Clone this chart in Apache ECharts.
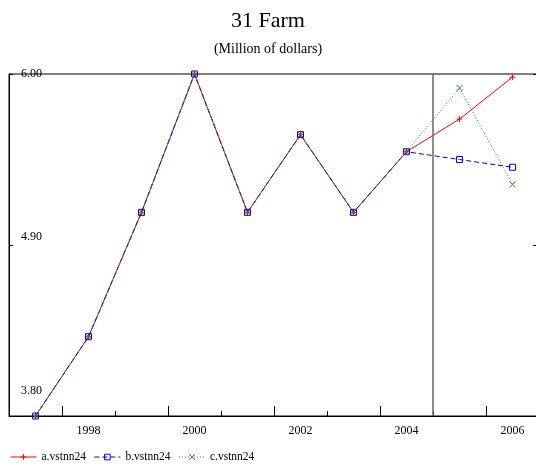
<!DOCTYPE html>
<html>
<head>
<meta charset="utf-8">
<script src="https://cdn.jsdelivr.net/npm/echarts@6/dist/echarts.min.js"></script>
<style>
  html, body { margin: 0; padding: 0; background: #fff; }
  #chart { width: 536px; height: 464px; }
</style>
</head>
<body>
<div id="chart"></div>
<script>
// Farm output, million dollars, by year
const years = ['1997', '1998', '1999', '2000', '2001', '2002', '2003', '2004', '2005', '2006'];
const seriesA = [3.80, 4.31, 5.11, 6.00, 5.11, 5.61, 5.11, 5.50, 5.71, 5.98];
const seriesB = [3.80, 4.31, 5.11, 6.00, 5.11, 5.61, 5.11, 5.50, 5.45, 5.40];
const seriesC = [3.80, 4.31, 5.11, 6.00, 5.11, 5.61, 5.11, 5.50, 5.91, 5.29];
const seriesNames = ['a.vstnn24', 'b.vstnn24', 'c.vstnn24'];
const yMin = 3.80;
const yMax = 6.00;
const yStep = 1.10;
// boundary between history and projection
const dividerYear = 2004.5;

const serif = 'Liberation Serif, Times New Roman, serif';
const firstYear = Number(years[0]);
const lastYear = Number(years[years.length - 1]);

const plusPath = 'path://M0,5L10,5M5,0L5,10';
const crossPath = 'path://M0,0L10,10M10,0L0,10';
const boxPath = 'path://M0,0L10,0L10,10L0,10Z';

function lineSeries(name, data, color, type, symbol, size) {
  return {
    name: name,
    type: 'line',
    data: data,
    xAxisIndex: 0,
    yAxisIndex: 0,
    symbol: symbol,
    symbolSize: size,
    showSymbol: true,
    itemStyle: { color: 'rgba(255,255,255,0)', borderColor: color, borderWidth: 1 },
    lineStyle: { color: color, width: 1, type: type },
    emphasis: { disabled: true }
  };
}

const chart = echarts.init(document.getElementById('chart'), null, { renderer: 'canvas' });
chart.setOption({
  animation: false,
  backgroundColor: '#fff',
  title: {
    text: '31 Farm',
    subtext: '(Million of dollars)',
    left: 'center',
    top: 0,
    padding: [10, 0, 0, 16],
    itemGap: 10,
    textStyle: { fontFamily: serif, fontSize: 22, fontWeight: 'normal', color: '#000' },
    subtextStyle: { fontFamily: serif, fontSize: 14, color: '#000' }
  },
  legend: {
    data: seriesNames,
    left: 5,
    top: 446,
    itemWidth: 26,
    itemHeight: 7,
    itemGap: 8,
    itemStyle: { borderWidth: 1 },
    lineStyle: { width: 1 },
    textStyle: { fontFamily: serif, fontSize: 11.5, color: '#000' }
  },
  grid: {
    left: 9,
    top: 74,
    width: 530,
    bottom: 48,
    outerBoundsMode: 'none',
    show: true,
    borderColor: '#000',
    borderWidth: 1,
    backgroundColor: 'transparent'
  },
  xAxis: [
    {
      type: 'category',
      data: years,
      boundaryGap: true,
      position: 'bottom',
      axisLine: { show: true, lineStyle: { color: '#000', width: 1 } },
      axisTick: { show: true, inside: true, length: 5, interval: 0, lineStyle: { color: '#000' } },
      axisLabel: {
        interval: function (index, value) { return Number(value) % 2 === 0; },
        margin: 9,
        fontFamily: serif,
        fontSize: 12,
        color: '#000'
      },
      splitLine: { show: false }
    },
    {
      type: 'category',
      data: years,
      boundaryGap: true,
      position: 'bottom',
      axisLine: { show: false },
      axisTick: {
        show: true,
        inside: true,
        length: 10,
        interval: function (index) { return index % 2 === 1; },
        lineStyle: { color: '#000' }
      },
      axisLabel: { show: false },
      splitLine: { show: false }
    },
    {
      type: 'value',
      min: firstYear - 0.5,
      max: lastYear + 0.5,
      show: false
    }
  ],
  yAxis: [
    {
      type: 'value',
      min: yMin,
      max: yMax,
      interval: yStep,
      position: 'left',
      axisLine: { show: true, lineStyle: { color: '#000', width: 1 } },
      axisTick: { show: true, inside: true, length: 4, lineStyle: { color: '#000' } },
      axisLabel: {
        inside: true,
        margin: 12,
        align: 'left',
        verticalAlign: 'middle',
        fontFamily: serif,
        fontSize: 12,
        color: '#000',
        formatter: function (v) {
          const key = v >= 5.95 ? 'hi' : (v >= 4.85 ? 'mid' : 'lo');
          return '{' + key + '|' + v.toFixed(2) + '}';
        },
        rich: {
          hi: { fontFamily: serif, fontSize: 12, color: '#000' },
          mid: { fontFamily: serif, fontSize: 12, color: '#000', padding: [0, 0, 16, 0] },
          lo: { fontFamily: serif, fontSize: 12, color: '#000', padding: [0, 0, 50, 0] }
        }
      },
      splitLine: { show: false }
    },
    {
      type: 'value',
      min: yMin,
      max: yMax,
      interval: yStep,
      position: 'right',
      axisLine: { show: true, lineStyle: { color: '#000', width: 1 } },
      axisTick: { show: true, inside: true, length: 6, lineStyle: { color: '#000' } },
      axisLabel: { show: false },
      splitLine: { show: false }
    }
  ],
  series: [
    lineSeries(seriesNames[0], seriesA, '#ff0000', 'solid', plusPath, 6),
    lineSeries(seriesNames[1], seriesB, '#0000ff', [5, 3], boxPath, 6),
    lineSeries(seriesNames[2], seriesC, '#2a962a', [1, 2], crossPath, 6),
    {
      name: 'divider',
      type: 'line',
      xAxisIndex: 2,
      yAxisIndex: 0,
      data: [],
      silent: true,
      markLine: {
        silent: true,
        symbol: 'none',
        label: { show: false },
        lineStyle: { color: '#666', width: 1.5, type: 'solid' },
        emphasis: { disabled: true },
        data: [{ xAxis: dividerYear }]
      }
    }
  ]
});
</script>
</body>
</html>
